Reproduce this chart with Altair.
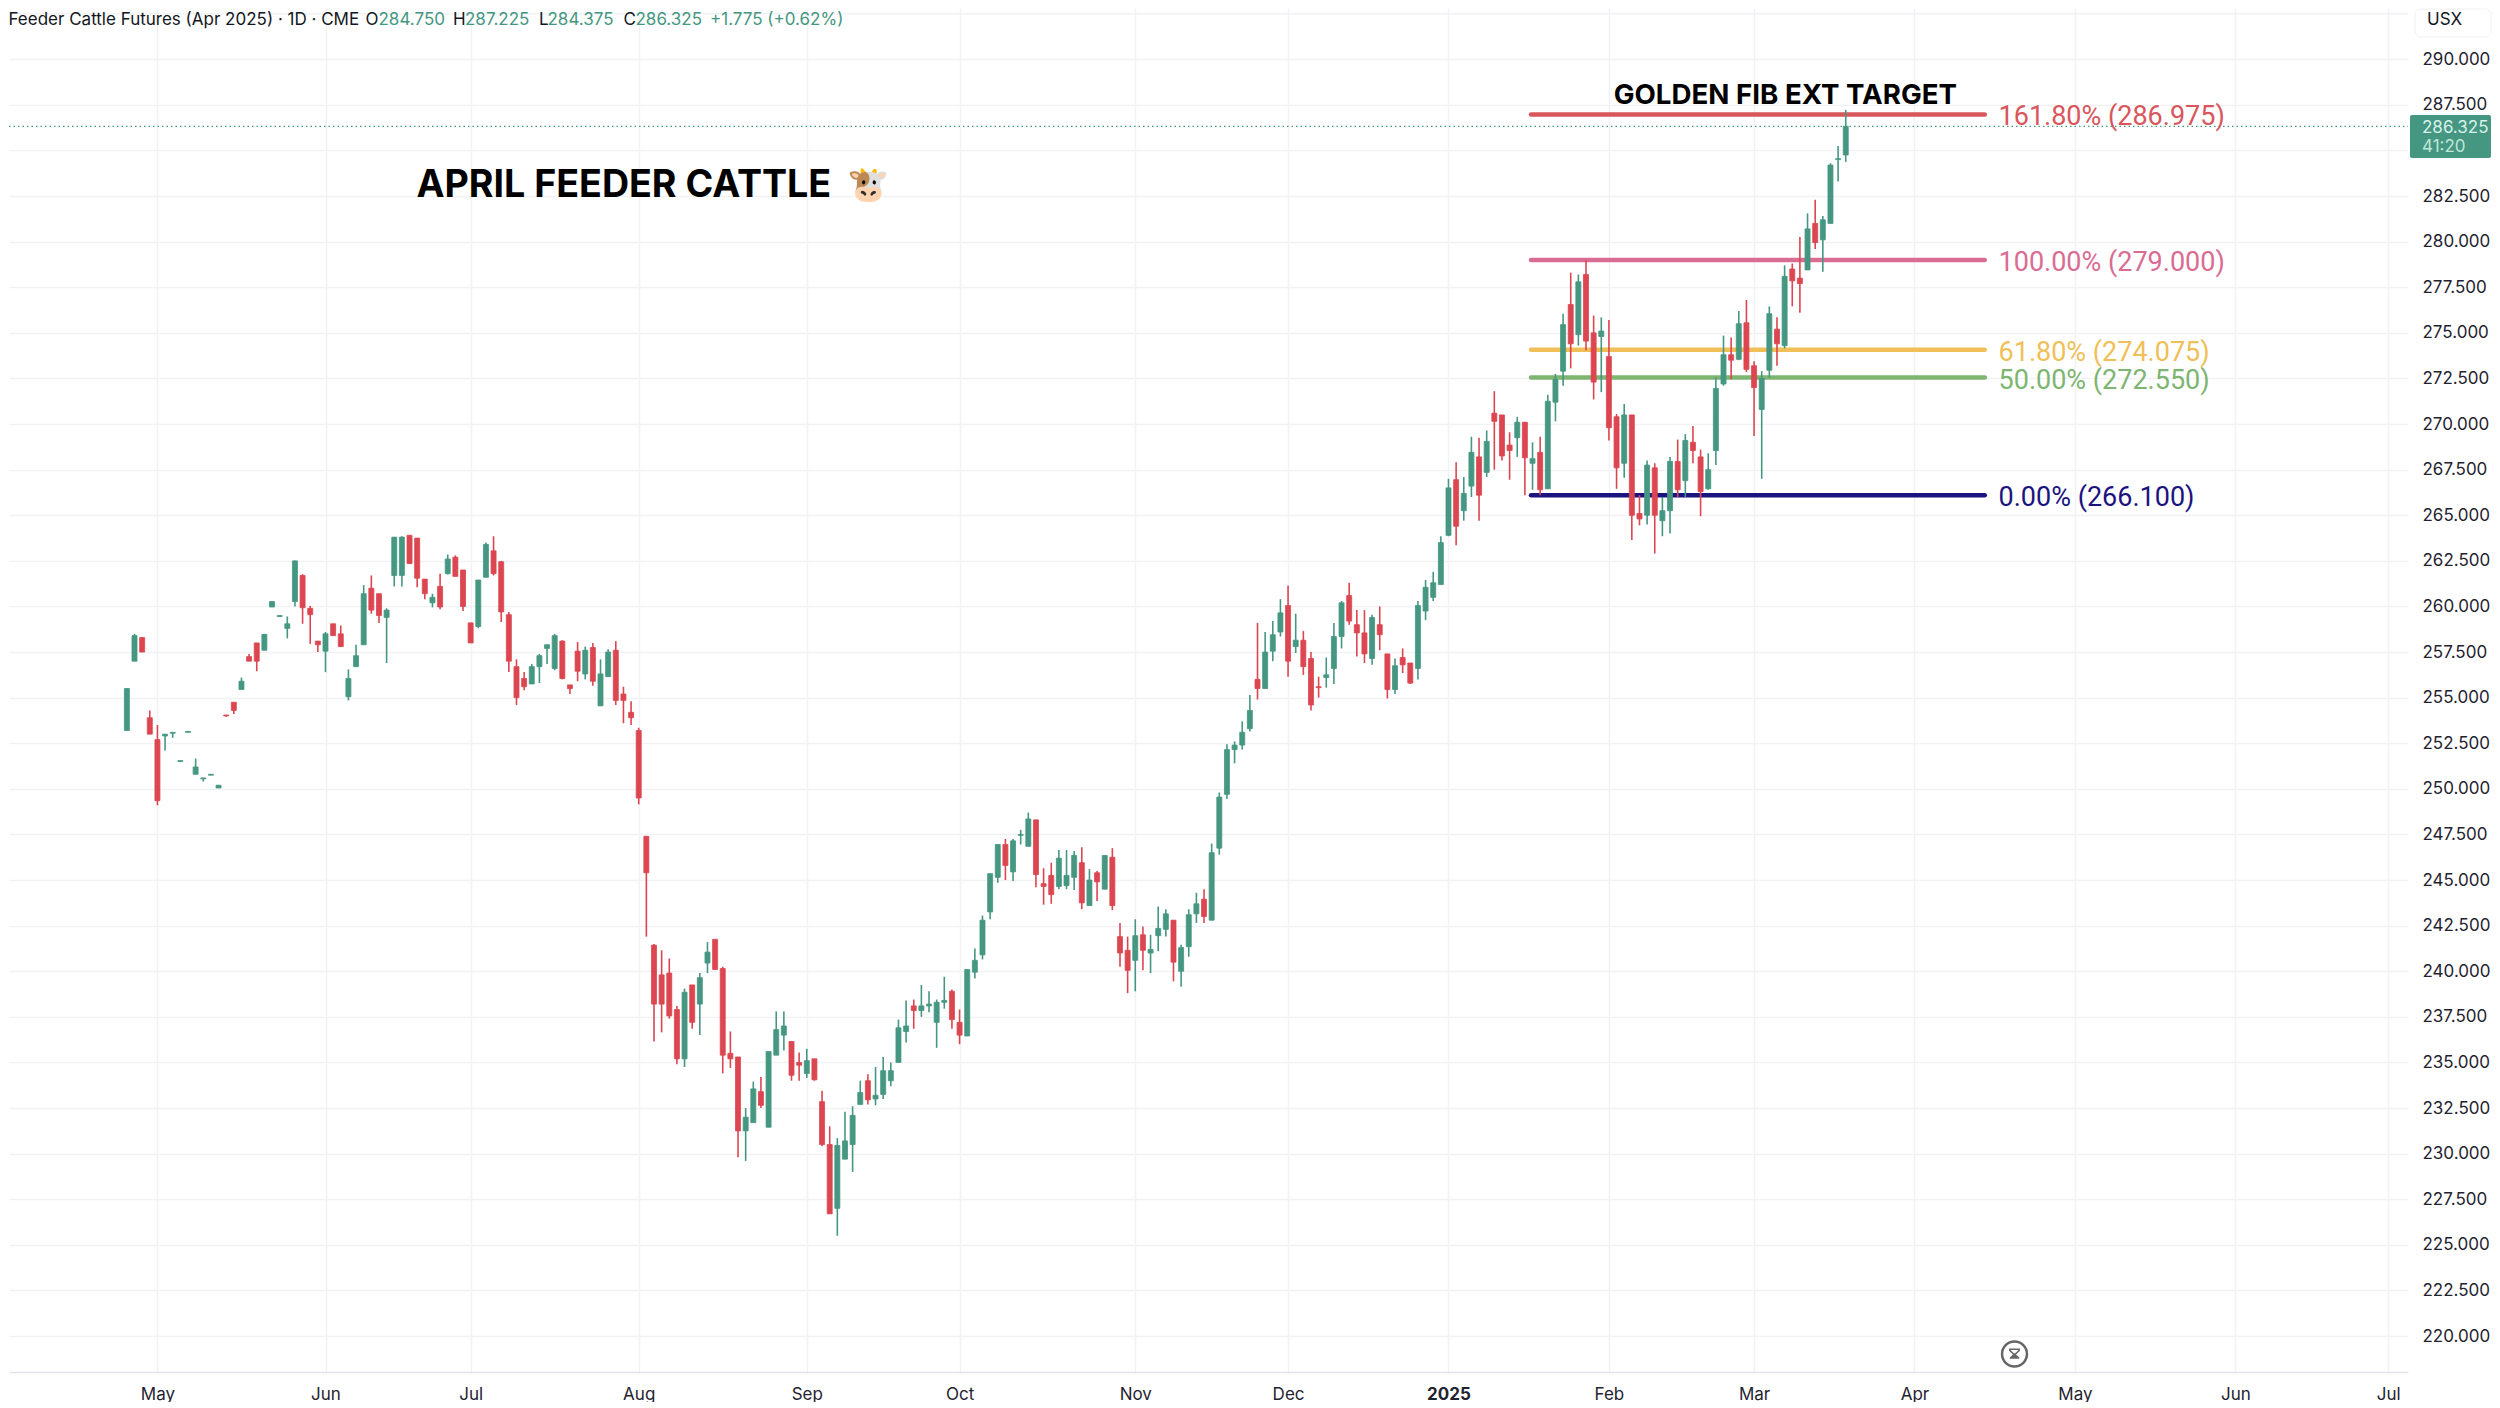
import altair as alt
import pandas as pd

opens = [253.2,257.0,258.3,253.9,252.7,252.9,253.05,251.5,253.1,250.8,
250.55,250.75,250.05,254.05,254.75,255.45,257.25,258.0,257.6,259.97,
259.45,258.8,260.27,261.7,259.9,258.1,257.55,259.05,258.5,255.05,
256.7,257.9,261.0,260.7,259.4,261.7,261.7,263.9,263.75,261.5,
260.2,261.1,261.8,262.7,262.0,259.1,258.9,261.6,263.05,262.45,
259.55,256.7,256.05,255.75,256.7,257.7,256.6,258.1,255.7,257.55,
256.3,257.75,254.55,256.15,257.6,255.2,254.2,253.2,247.4,241.43,
239.8,239.9,237.9,235.2,239.25,238.2,240.45,241.75,240.15,235.5,
235.3,231.25,231.7,233.4,231.45,235.4,236.5,236.15,235.0,234.4,
235.2,232.85,230.5,227.0,229.7,230.5,232.7,234.0,233.0,233.25,
234.0,235.0,236.7,238.1,237.85,238.1,237.2,238.3,238.9,237.2,
236.45,239.95,240.9,243.25,245.15,246.95,245.45,247.45,246.85,248.3,
244.8,245.25,244.65,244.7,245.15,245.95,243.6,245.4,244.5,246.25,
241.9,241.15,240.6,242.0,241.0,241.95,242.3,242.8,240.0,241.35,
243.15,243.95,242.8,246.75,249.7,252.15,252.4,253.3,256.0,255.5,
257.55,258.6,260.05,257.8,258.15,257.15,255.6,256.1,256.6,258.35,
260.6,259.0,258.55,257.15,259.0,257.4,255.45,257.2,256.9,256.6,
259.75,260.5,261.2,263.9,266.95,265.25,266.6,268.2,267.35,270.6,
270.5,268.85,269.25,270.1,267.85,268.45,266.45,271.2,272.9,276.55,
274.9,278.2,275.0,274.8,273.7,270.4,267.85,270.5,265.1,265.0,
267.6,264.7,265.25,267.95,266.9,269.0,268.2,266.45,268.55,272.2,
273.8,273.55,275.55,273.2,270.8,272.95,275.2,274.3,278.5,278.0,
278.45,281.0,280.1,281.0,284.5,284.75]
highs = [255.5,258.5,258.3,254.3,253.5,253.0,253.1,251.55,253.15,251.66,
250.6,250.8,250.2,254.05,254.75,256.1,257.4,258.0,258.47,260.27,
259.5,259.45,262.5,261.77,260.03,258.1,258.6,259.05,258.95,256.55,
257.9,261.17,261.7,260.7,259.9,263.8,263.85,263.9,263.75,261.5,
260.7,261.8,262.85,262.8,262.0,259.1,261.45,263.5,263.85,262.5,
259.7,257.1,256.4,256.85,257.4,257.9,258.5,258.15,255.7,258.05,
257.8,258.0,257.1,257.65,258.1,255.6,254.8,253.35,247.4,241.5,
241.15,240.7,238.1,239.05,239.25,239.9,241.6,241.75,240.25,236.7,
235.3,232.5,233.95,234.2,235.6,237.8,237.8,236.15,235.55,235.75,
235.2,233.45,231.5,230.85,232.3,232.6,234.0,234.35,234.75,235.3,
235.0,237.35,238.4,238.45,239.25,238.9,238.45,239.7,239.0,237.9,
240.1,241.25,243.05,245.35,246.95,247.25,247.25,247.75,248.7,248.3,
245.65,245.95,246.65,246.65,246.6,246.8,245.6,245.5,246.35,246.75,
242.65,241.9,242.85,242.45,242.0,243.55,243.4,242.8,241.45,243.4,
244.3,244.5,247.0,249.8,252.45,252.6,253.7,255.15,259.1,258.6,
259.2,260.4,261.15,259.6,258.65,257.5,256.15,257.2,259.1,260.3,
261.3,259.8,259.8,259.55,260.0,257.4,257.15,257.7,256.9,260.3,
261.45,261.9,263.85,267.0,267.9,267.1,269.3,269.25,269.65,271.8,
270.5,269.55,270.4,270.1,269.0,269.3,271.6,272.75,276.05,278.3,
278.2,279.0,275.95,275.85,275.7,270.55,271.1,270.5,266.1,268.0,
267.85,266.0,268.2,269.15,269.45,269.9,268.6,268.4,272.55,274.85,
274.75,276.2,276.8,273.45,272.9,276.45,275.85,278.7,278.8,280.25,
281.55,282.3,281.4,284.3,285.25,287.225]
lows = [253.2,257.0,257.5,253.0,249.1,252.1,252.8,251.5,253.1,250.8,
250.4,250.75,250.05,253.95,254.1,255.45,257.0,256.45,257.6,259.97,
259.45,258.25,260.0,259.05,257.95,257.5,256.4,258.4,257.8,254.85,
256.7,257.9,259.6,259.1,256.9,261.1,261.1,262.35,261.05,260.4,
259.95,259.85,261.75,261.65,259.75,258.0,258.8,261.6,261.7,259.15,
256.4,254.6,255.4,255.75,255.8,256.85,256.5,256.0,255.2,255.9,
256.0,255.65,254.55,256.15,254.6,253.6,253.5,249.15,241.9,236.15,
236.65,237.4,234.9,234.75,236.85,236.5,239.9,240.1,234.4,234.7,
229.8,229.6,231.7,232.5,231.45,235.4,235.65,234.0,234.0,234.15,
234.0,230.4,226.7,225.5,229.7,229.0,232.7,232.7,232.65,233.0,
233.7,235.0,236.1,236.85,237.5,237.75,235.8,237.95,236.85,236.0,
236.45,239.6,240.65,242.85,244.85,245.0,244.95,246.95,246.85,244.6,
243.65,243.7,244.5,244.5,244.45,243.4,243.6,243.85,244.5,243.35,
240.25,238.8,238.9,240.05,239.9,241.1,241.9,239.45,239.15,240.8,
242.65,242.65,242.8,246.4,249.45,251.4,252.15,253.15,254.9,255.5,
257.0,258.35,256.15,257.45,256.25,254.3,255.0,255.55,255.75,257.7,
259.0,257.25,256.9,256.8,257.6,254.95,255.2,256.35,255.75,256.0,
259.25,260.3,261.2,263.85,263.35,264.7,266.0,264.7,267.1,267.5,
268.0,266.95,268.2,266.1,266.4,266.1,266.45,270.15,272.1,273.05,
274.3,274.05,271.35,271.75,269.1,266.45,267.05,263.65,264.45,264.5,
262.9,263.85,264.0,266.0,266.0,267.85,264.95,266.4,267.75,272.1,
272.45,273.5,272.85,269.35,267.0,272.55,273.2,274.15,276.45,276.1,
278.45,279.6,278.35,281.0,283.3,284.375]
closes = [255.5,258.4,257.5,253.0,249.35,253.0,253.1,251.55,253.15,251.2,
250.6,250.8,250.2,254.0,254.3,255.9,257.0,257.0,258.47,260.27,
259.5,259.05,262.5,259.93,259.55,257.9,258.5,258.4,257.8,256.05,
257.3,260.7,259.8,259.5,259.8,263.8,263.8,262.35,261.55,260.7,
260.5,259.97,262.6,261.65,260.0,258.0,261.45,263.4,261.8,259.7,
257.0,255.0,255.6,256.7,257.3,257.9,258.4,256.05,255.5,256.45,
257.6,255.9,256.3,257.5,254.85,254.85,253.9,249.5,245.4,238.2,
238.2,237.55,235.2,238.85,237.2,239.65,241.05,240.1,235.4,235.2,
231.25,232.0,233.55,232.65,235.6,236.8,237.0,234.3,234.85,235.1,
234.05,230.5,226.7,230.45,230.7,232.1,233.35,232.95,233.2,234.55,
234.55,236.9,237.0,237.85,238.1,238.2,238.3,238.4,237.35,236.5,
240.1,240.6,242.8,245.35,246.95,245.8,247.15,247.5,248.35,245.3,
244.65,244.2,246.2,245.25,246.35,243.75,245.0,244.9,246.35,243.6,
241.0,240.05,241.95,241.15,241.2,242.35,243.15,240.5,241.3,243.1,
243.7,243.0,246.5,249.55,252.15,252.4,253.1,254.3,255.5,257.5,
258.45,259.65,257.0,258.15,256.7,254.6,255.55,256.25,258.35,260.2,
259.2,258.55,257.4,259.4,258.45,255.45,256.75,256.8,255.8,260.05,
261.05,261.3,263.5,266.5,264.4,266.2,268.45,266.1,269.05,270.15,
268.25,268.55,270.1,268.15,268.1,266.4,271.25,272.45,275.45,274.4,
277.8,274.55,272.3,275.1,269.8,267.6,270.5,265.0,264.8,267.75,
265.0,265.25,267.95,266.4,269.1,268.55,266.3,267.5,271.95,273.8,
273.5,275.5,273.0,272.0,272.5,276.05,274.4,278.1,277.85,277.7,
280.7,279.95,281.2,284.2,284.55,286.325]

month_idx = [4, 26, 45, 67, 89, 109, 132, 152, 173, 194, 213, 234, 255, 276, 296]
month_names = ["May", "Jun", "Jul", "Aug", "Sep", "Oct", "Nov", "Dec", "2025",
               "Feb", "Mar", "Apr", "May", "Jun", "Jul"]
price_ticks = [220 + 2.5 * k for k in range(29)]
top_grid = [292.5]

fib_levels = [286.975, 279.0, 274.075, 272.55, 266.1]
fib_labels = ["161.80% (286.975)", "100.00% (279.000)", "61.80% (274.075)",
              "50.00% (272.550)", "0.00% (266.100)"]
fib_colors = ["#d9565c", "#d96c93", "#f0bf58", "#7db571", "#1b1480"]

GREEN, RED = "#459782", "#dc4650"
FONT = "Inter"
OX, OY = 9, 8
X_DOM = [-15.43, 298.6]
Y_DOM = [218.03, 292.81]

n = len(closes)
candles = pd.DataFrame({
    "i": list(range(n)), "o": opens, "h": highs, "l": lows, "c": closes,
})
candles["dir"] = ["up" if c >= o else "down" for o, c in zip(opens, closes)]
dir_scale = alt.Scale(domain=["up", "down"], range=[GREEN, RED])

xs = alt.Scale(domain=X_DOM, nice=False, zero=False, padding=0)
ys = alt.Scale(domain=Y_DOM, nice=False, zero=False, padding=0)
names_js = "[" + ",".join(f"'{m}'" for m in month_names) + "]"
idx_js = "[" + ",".join(str(m) for m in month_idx) + "]"

x_axis = alt.Axis(
    values=month_idx, title=None, grid=True, gridColor="#f1f2f5", gridWidth=1.5,
    ticks=False, domainColor="#e2e4ea", domainWidth=1.5,
    labelExpr=f"{names_js}[indexof({idx_js}, datum.value)]",
    labelFont=FONT, labelFontSize=17, labelColor="#1f2330", labelPadding=14,
    labelOverlap=False, labelBound=False, labelFlush=False,
    labelFontWeight={"condition": {"test": "datum.value === 173", "value": "bold"}, "value": "normal"},
)
y_axis = alt.Axis(
    values=price_ticks, orient="right", title=None, grid=True,
    gridColor="#f1f2f5", gridWidth=1.5, ticks=False, domain=False,
    labelExpr="datum.value === 285 ? '' : format(datum.value, '.3f')",
    labelFont=FONT, labelFontSize=17, labelColor="#1f2330", labelPadding=14,
    labelAlign="left", labelOverlap=False, labelBound=False,
)


def X(f):
    return alt.X(f, scale=xs, axis=x_axis)


def Y(f):
    return alt.Y(f, scale=ys, axis=y_axis)


base = alt.Chart(candles)
fib = pd.DataFrame({"p": fib_levels, "label": fib_labels, "col": fib_colors,
                    "x1": [183.8] * 5, "x2": [243.2] * 5, "xt": [245.0] * 5})
fib_rules = alt.Chart(fib).mark_rule(strokeWidth=4.5, strokeCap="round").encode(
    x=X("x1:Q"), x2="x2:Q", y=Y("p:Q"), color=alt.Color("col:N", scale=None),
)
fib_text = alt.Chart(fib).mark_text(align="left", baseline="middle", font="Roboto", fontSize=27, dy=3).encode(
    x=X("xt:Q"), y=Y("p:Q"), text="label:N", color=alt.Color("col:N", scale=None),
)

top_line = pd.DataFrame({"p": top_grid, "x0": [X_DOM[0]], "x1": [X_DOM[1]]})
top_rule = alt.Chart(top_line).mark_rule(strokeWidth=1.5, color="#f1f2f5").encode(
    x=X("x0:Q"), x2="x1:Q", y=Y("p:Q"),
)

last = pd.DataFrame({"p": [closes[-1]], "x0": [X_DOM[0]], "x1": [X_DOM[1]]})
last_line = alt.Chart(last).mark_rule(strokeWidth=1.3, strokeDash=[1.5, 3], color=GREEN).encode(
    x=X("x0:Q"), x2="x1:Q", y=Y("p:Q"),
)

wicks = base.mark_rule(strokeWidth=1.6).encode(
    x=X("i:Q"), y=Y("h:Q"), y2="l:Q",
    color=alt.Color("dir:N", scale=dir_scale, legend=None),
)
bodies = base.mark_bar(size=5, strokeWidth=0.8).encode(
    x=X("i:Q"), y=Y("o:Q"), y2="c:Q",
    color=alt.Color("dir:N", scale=dir_scale, legend=None),
    stroke=alt.Color("dir:N", scale=dir_scale, legend=None),
)

one = alt.Data(values=[{"a": 1}])


def label(text, px, py, color="#131722", size=17, weight="normal", align="left"):
    return alt.Chart(one).mark_text(
        text=text, font=FONT, fontSize=size, fontWeight=weight, color=color,
        align=align, baseline="middle",
    ).encode(x=alt.value(px - OX), y=alt.value(py - OY))


titles = pd.DataFrame({"x": [217.1, 37.9], "y": [287.98, 283.03],
                       "t": ["GOLDEN FIB EXT TARGET", "APRIL FEEDER CATTLE"]})
gold = alt.Chart(titles.iloc[[0]]).mark_text(font=FONT, fontSize=27.7, fontWeight="bold", color="#000000", align="center", baseline="middle").encode(
    x=X("x:Q"), y=Y("y:Q"), text="t:N")
april = alt.Chart(titles.iloc[[1]]).mark_text(font=FONT, fontSize=37.6, fontWeight="bold", color="#000000", align="left", baseline="middle").encode(
    x=X("x:Q"), y=Y("y:Q"), text="t:N")
cow = label("🐮", 847, 186, size=34)

header = [
    label("Feeder Cattle Futures (Apr 2025) · 1D · CME", 8.5, 19.5),
    label("O", 365.5, 19.5), label("284.750", 378.5, 19.5, GREEN),
    label("H", 453, 19.5), label("287.225", 465, 19.5, GREEN),
    label("L", 539, 19.5), label("284.375", 547.5, 19.5, GREEN),
    label("C", 623.5, 19.5), label("286.325", 635.5, 19.5, GREEN),
    label("+1.775 (+0.62%)", 710, 19.5, GREEN),
]

usx_box = alt.Chart(one).mark_rect(fill="#ffffff", stroke="#f0f1f4", cornerRadius=6).encode(
    x=alt.value(2415 - OX), x2=alt.value(2491 - OX), y=alt.value(1), y2=alt.value(37 - OY))
tag = alt.Chart(one).mark_rect(fill=GREEN, cornerRadius=2).encode(
    x=alt.value(2410 - OX), x2=alt.value(2491 - OX), y=alt.value(115 - OY), y2=alt.value(158 - OY))

clock = alt.Chart(one).mark_point(shape="circle", size=620, stroke="#666666", strokeWidth=2.5, fill="#ffffff", filled=True, opacity=1).encode(
    x=alt.value(2014.5 - OX), y=alt.value(1354 - OY))
glass_top = alt.Chart(one).mark_point(
    shape="M-0.5,-0.5L0.5,-0.5L0.5,-0.38L0.1,0L-0.1,0L-0.5,-0.38Z",
    size=360, stroke="#666666", strokeWidth=1.5, opacity=1).encode(
    x=alt.value(2014.5 - OX), y=alt.value(1354 - OY))
glass_bot = alt.Chart(one).mark_point(
    shape="M-0.1,0L0.1,0L0.5,0.38L0.5,0.5L-0.5,0.5L-0.5,0.38Z",
    size=360, fill="#666666", filled=True, opacity=1).encode(
    x=alt.value(2014.5 - OX), y=alt.value(1354 - OY))

layers = [top_rule, fib_rules, last_line, fib_text, wicks, bodies, gold, april, cow,
          *header, usx_box, label("USX", 2427, 19.5), tag,
          label("286.325", 2422, 127.5, "#d8f2ea"), label("41:20", 2422, 146.5, "#bfe6da"),
          clock, glass_top, glass_bot]

chart = alt.layer(*layers).resolve_scale(color="independent").properties(
    width=2399, height=1364, background="#ffffff",
    padding={"left": 0, "top": 0, "right": 0, "bottom": 0},
).configure_view(stroke=None)

chart.save("out.html", embed_options={"renderer": "svg", "actions": False})
